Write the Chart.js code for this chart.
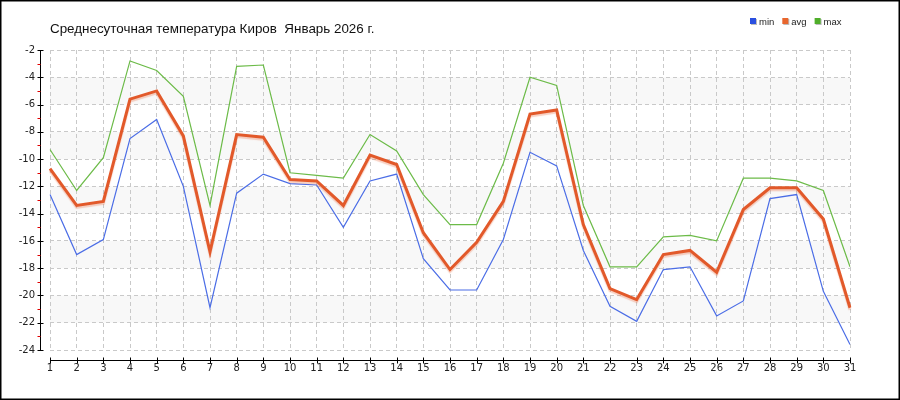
<!DOCTYPE html>
<html>
<head>
<meta charset="utf-8">
<script src="https://cdn.jsdelivr.net/npm/chart.js@4.4.1/dist/chart.umd.min.js"></script>
<style>
  html, body { margin: 0; padding: 0; background: #fff; }
  #wrap { width: 900px; height: 400px; }
</style>
</head>
<body>
<div id="wrap"><canvas id="temps" width="900" height="400"></canvas></div>
<script>
const days = ['1','2','3','4','5','6','7','8','9','10','11','12','13','14','15','16',
              '17','18','19','20','21','22','23','24','25','26','27','28','29','30','31'];
const minT = [-12.6, -17.0, -15.9, -8.5, -7.1, -12.0, -20.9, -12.5, -11.1, -11.8, -11.9,
              -15.0, -11.6, -11.1, -17.3, -19.6, -19.6, -15.9, -9.5, -10.5, -16.7, -20.8,
              -21.9, -18.1, -17.9, -21.5, -20.4, -12.9, -12.6, -19.7, -23.6];
const avgT = [-10.7, -13.4, -13.1, -5.6, -5.0, -8.3, -16.8, -8.2, -8.4, -11.5, -11.6,
              -13.4, -9.7, -10.4, -15.4, -18.1, -16.1, -13.1, -6.7, -6.4, -14.8, -19.5,
              -20.3, -17.0, -16.7, -18.3, -13.7, -12.1, -12.1, -14.4, -20.9];
const maxT = [-9.3, -12.3, -9.9, -2.8, -3.5, -5.4, -13.4, -3.2, -3.1, -11.0, -11.2,
              -11.4, -8.2, -9.4, -12.6, -14.8, -14.8, -10.3, -4.0, -4.6, -13.4, -17.9,
              -17.9, -15.7, -15.6, -16.0, -11.4, -11.4, -11.6, -12.3, -17.9];
const yMin = -24;
const yMax = -2;

const chartTitle = 'Среднесуточная температура Киров  Январь 2026 г.';
const legendItems = [
  { label: 'min', color: '#2a4fe0' },
  { label: 'avg', color: '#e8662e' },
  { label: 'max', color: '#4fae2a' }
];

const gridStyle = {
  color: '#c9c9c9',
  lineWidth: 1,
  drawTicks: false
};

const decorPlugin = {
  id: 'decor',
  beforeDraw(chart) {
    const ctx = chart.ctx;
    const x = chart.scales.x, y = chart.scales.y;
    ctx.save();
    ctx.fillStyle = '#fff';
    ctx.fillRect(0, 0, chart.width, chart.height);
    // alternating bands
    ctx.fillStyle = '#f8f8f8';
    for (let v = -4; v > yMin; v -= 4) {
      const top = y.getPixelForValue(v);
      const bot = y.getPixelForValue(v - 2);
      ctx.fillRect(x.left, top, x.right - x.left, bot - top);
    }
    ctx.restore();
  },
  beforeDatasetDraw(chart, args) {
    if (args.index === 1) {
      const ctx = chart.ctx;
      ctx.save();
      ctx.shadowColor = 'rgba(235, 120, 80, 0.35)';
      ctx.shadowOffsetY = 2;
      ctx.shadowBlur = 1;
    }
  },
  afterDatasetDraw(chart, args) {
    if (args.index === 1) chart.ctx.restore();
  },
  afterDraw(chart) {
    const ctx = chart.ctx;
    const x = chart.scales.x, y = chart.scales.y;
    ctx.save();

    // y axis line + ticks
    const ax = 40.5;
    ctx.strokeStyle = '#000';
    ctx.lineWidth = 1;
    ctx.beginPath();
    ctx.moveTo(ax, y.top);
    ctx.lineTo(ax, y.bottom);
    for (let v = yMax; v >= yMin; v -= 2) {
      const py = Math.round(y.getPixelForValue(v)) + 0.5;
      ctx.moveTo(ax - 3, py);
      ctx.lineTo(ax + 3, py);
    }
    ctx.stroke();
    ctx.strokeStyle = '#e00000';
    ctx.beginPath();
    for (let v = yMax - 1; v > yMin; v -= 2) {
      const py = Math.round(y.getPixelForValue(v)) + 0.5;
      ctx.moveTo(ax - 3, py);
      ctx.lineTo(ax, py);
    }
    ctx.stroke();

    // x axis line + ticks
    const ay = 360.5;
    ctx.strokeStyle = '#000';
    ctx.beginPath();
    ctx.moveTo(x.left, ay);
    ctx.lineTo(x.right, ay);
    days.forEach((d, i) => {
      const px = Math.round(x.getPixelForValue(i)) + 0.5;
      ctx.moveTo(px, ay - 3);
      ctx.lineTo(px, ay + 3);
    });
    ctx.stroke();

    // title
    ctx.fillStyle = '#111';
    ctx.font = '13.4px "Liberation Sans", Arial, sans-serif';
    ctx.textBaseline = 'alphabetic';
    ctx.textAlign = 'left';
    ctx.fillText(chartTitle, 50, 33);

    // legend
    ctx.font = '9.5px "Liberation Sans", Arial, sans-serif';
    let lx = 750;
    legendItems.forEach(item => {
      ctx.fillStyle = '#bbb';
      ctx.fillRect(lx + 1, 19, 6, 6);
      ctx.fillStyle = item.color;
      ctx.fillRect(lx, 18, 6, 6);
      ctx.fillStyle = '#222';
      ctx.fillText(item.label, lx + 9, 25);
      lx += ctx.measureText(item.label).width + 17;
    });

    // outer frame
    ctx.strokeStyle = '#000';
    ctx.lineWidth = 1.5;
    ctx.strokeRect(0.75, 0.75, chart.width - 1.5, chart.height - 1.5);
    ctx.restore();
  }
};

new Chart(document.getElementById('temps').getContext('2d'), {
  type: 'line',
  data: {
    labels: days,
    datasets: [
      { label: 'min', data: minT, borderColor: '#4b6de6', borderWidth: 1.2, order: 2 },
      { label: 'avg', data: avgT, borderColor: '#e2592a', borderWidth: 3, order: 0 },
      { label: 'max', data: maxT, borderColor: '#6cbb48', borderWidth: 1.2, order: 1 }
    ]
  },
  options: {
    responsive: false,
    animation: false,
    events: [],
    elements: {
      point: { radius: 0 },
      line: { tension: 0, fill: false }
    },
    layout: { padding: { top: 50, right: 50, left: 0, bottom: 0 } },
    scales: {
      x: {
        type: 'category',
        offset: false,
        border: { display: false, dash: [4, 3] },
        grid: { ...gridStyle },
        ticks: {
          autoSkip: false,
          maxRotation: 0,
          padding: 12,
          color: '#222',
          font: { family: '"DejaVu Sans", sans-serif', size: 10 }
        },
        afterFit(scale) { scale.height = 50; }
      },
      y: {
        min: yMin,
        max: yMax,
        border: { display: false, dash: [4, 3] },
        grid: { ...gridStyle },
        ticks: {
          stepSize: 2,
          padding: 15,
          color: '#222',
          font: { family: '"DejaVu Sans", sans-serif', size: 10 }
        },
        afterFit(scale) { scale.width = 50; }
      }
    },
    plugins: {
      legend: { display: false },
      title: { display: false },
      tooltip: { enabled: false }
    }
  },
  plugins: [decorPlugin]
});
</script>
</body>
</html>
